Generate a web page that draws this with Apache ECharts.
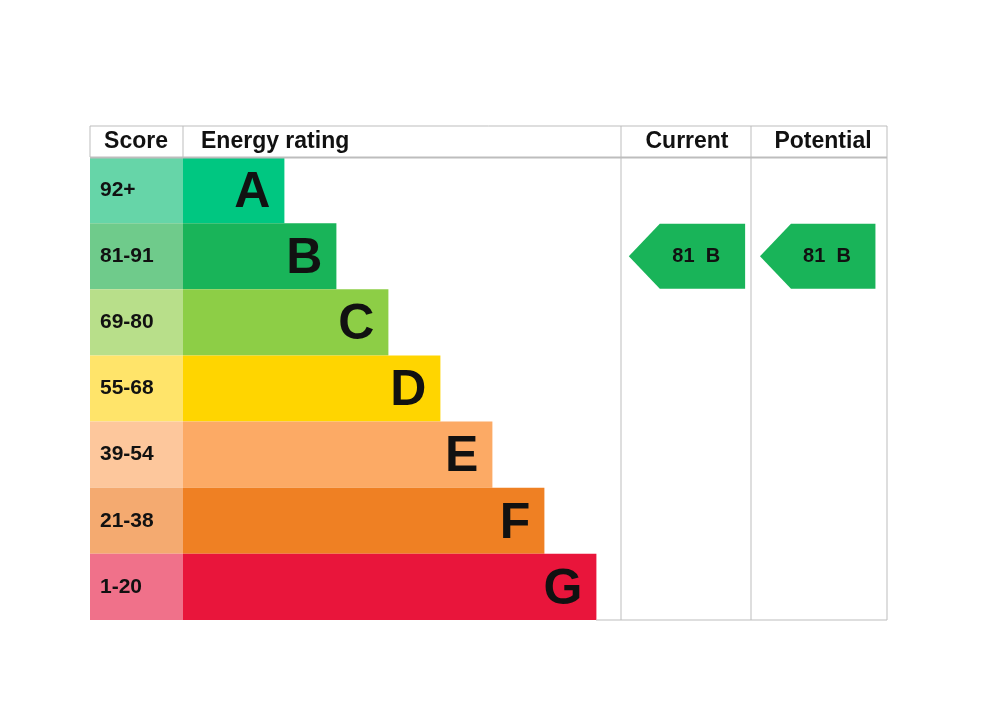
<!DOCTYPE html>
<html><head><meta charset="utf-8">
<script src="https://cdn.jsdelivr.net/npm/echarts@6/dist/echarts.min.js"></script>
<style>html,body{margin:0;background:#fff}#c{width:997px;height:723px}</style>
</head><body><div id="c"></div>
<script>
const ratings = ['A','B','C','D','E','F','G'];
const scoreBands = ['92+','81-91','69-80','55-68','39-54','21-38','1-20'];
const barLengths = [1.95,2.95,3.95,4.95,5.95,6.95,7.95];
const barColors = ['#00c781','#19b459','#8dce46','#ffd500','#fcaa65','#ef8023','#e9153b'];
const scoreColors = ['#66d5a8','#6fcb8b','#b8df8a','#ffe46a','#fdc79c','#f4aa70','#f0718a'];
const currentScore = 81, currentRating = 'B';
const potentialScore = 81, potentialRating = 'B';

const chart = echarts.init(document.getElementById('c'));
const T=157,B=103;
function yAx(i){return {type:'category',data:ratings,inverse:true,gridIndex:i,show:false};}
function arrowSeries(gi, score, rating, x0, x1){
  return {type:'custom',xAxisIndex:gi,yAxisIndex:gi,data:[[0,ratings.indexOf(rating)]],
    renderItem:(p,api)=>{
      const c=api.coord([0,api.value(1)]);const h=api.size([0,1])[1]-1;
      const a=api.coord([x0,api.value(1)])[0], b=api.coord([x1,api.value(1)])[0];
      const y0=c[1]-h/2,y1=c[1]+h/2,tip=31;
      return {type:'group',children:[
        {type:'polygon',shape:{points:[[a,c[1]],[a+tip,y0],[b,y0],[b,y1],[a+tip,y1]]},style:{fill:barColors[ratings.indexOf(rating)]}},
        {type:'text',style:{text:score+'  '+rating,x:(a+tip*0.6+b)/2,y:c[1],align:'center',verticalAlign:'middle',font:'bold 20px "Liberation Sans", Arial',fill:'#111'}}
      ]};
    }};
}
const line=(x1,y1,x2,y2,w)=>({type:'line',shape:{x1,y1,x2,y2},style:{stroke:'#bdbdbd',lineWidth:w||1},z:10});
const hdr=(t,x,al)=>({type:'text',style:{text:t,x,y:142,align:al||'center',verticalAlign:'middle',font:'bold 23px "Liberation Sans", Arial',fill:'#111'},z:10});
chart.setOption({
  animation:false,
  grid:[
    {left:183,right:110,top:T,bottom:B},
    {left:90,width:93,top:T,bottom:B},
    {left:621,width:130,top:T,bottom:B},
    {left:751,width:136,top:T,bottom:B}
  ],
  xAxis:[
    {type:'value',min:0,max:(887-183)/52,show:false,gridIndex:0},
    {type:'value',min:0,max:1,show:false,gridIndex:1},
    {type:'value',min:0,max:1,show:false,gridIndex:2},
    {type:'value',min:0,max:1,show:false,gridIndex:3}
  ],
  yAxis:[yAx(0),yAx(1),yAx(2),yAx(3)],
  series:[
    {type:'bar',xAxisIndex:0,yAxisIndex:0,barCategoryGap:0,
     data:barLengths.map((v,i)=>({value:v,itemStyle:{color:barColors[i]}})),
     label:{show:true,position:'insideRight',formatter:p=>ratings[p.dataIndex],offset:[0,3],
       font:'bold 50px "Liberation Sans", Arial',fontWeight:'bold',fontSize:50,fontFamily:'"Liberation Sans", Arial',color:'#111',distance:14}},
    {type:'bar',xAxisIndex:1,yAxisIndex:1,barCategoryGap:0,
     data:scoreBands.map((s,i)=>({value:1,itemStyle:{color:scoreColors[i]}})),
     label:{show:true,position:'insideLeft',distance:10,formatter:p=>scoreBands[p.dataIndex],
       fontWeight:'bold',fontSize:21,fontFamily:'"Liberation Sans", Arial',color:'#111'}},
    arrowSeries(2,currentScore,currentRating,0.06,0.955),
    arrowSeries(3,potentialScore,potentialRating,0.066,0.915)
  ],
  graphic:[
    line(90,126,887,126), line(90,126,90,157), line(887,126,887,620),
    line(90,157.5,887,157.5,2), line(183,126,183,157),
    line(621,126,621,620), line(751,126,751,620), line(596,620,887,620),
    hdr('Score',136), hdr('Energy rating',201,'left'), hdr('Current',687), hdr('Potential',823)
  ]
});
</script></body></html>
